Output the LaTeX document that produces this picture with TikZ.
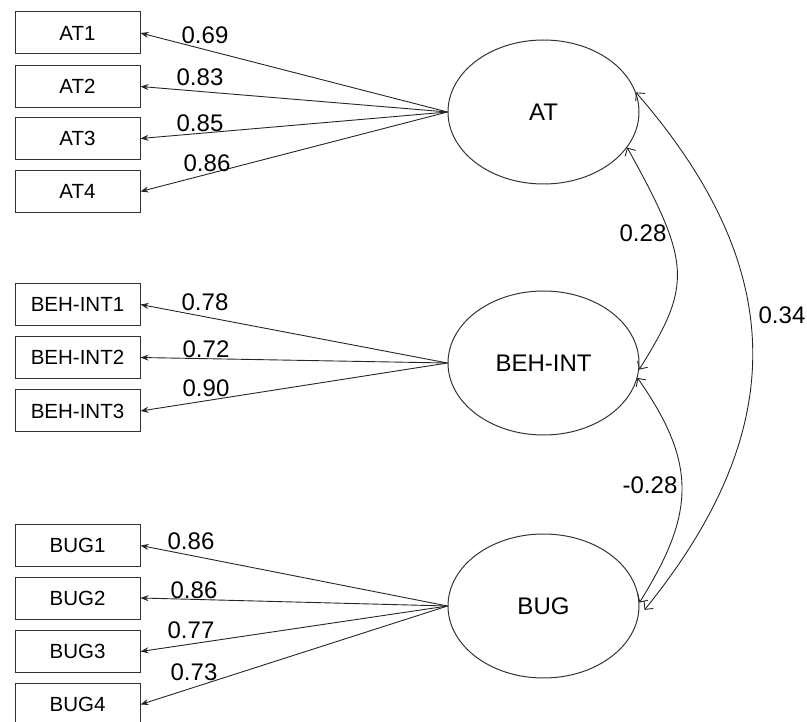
\documentclass[tikz,border=0pt]{standalone}
\usepackage{fontspec}
\setmainfont{Liberation Sans}
\usetikzlibrary{shapes.geometric,arrows.meta}
\begin{document}
\begin{tikzpicture}[x=1pt,y=1pt,
  box/.style={draw=black!80, line width=1pt, minimum width=125pt, minimum height=42pt, inner sep=0pt, font=\fontsize{20.5}{24}\selectfont},
  lat/.style={ellipse, draw=black!80, line width=1pt, minimum width=191pt, minimum height=144pt, inner sep=0pt, font=\fontsize{24}{28}\selectfont},
  load/.style={draw=black!85, line width=0.9pt, -{Stealth[length=8pt,width=6pt]}},
  cov/.style={draw=black!85, line width=0.9pt, {Straight Barb[length=6pt,width=12pt]}-{Straight Barb[length=6pt,width=12pt]}},
  lab/.style={font=\fontsize{24}{28}\selectfont, inner sep=0pt}]
\useasboundingbox (0,0) rectangle (807,-722);

% latent variables
\node[lat] (AT)  at (543.5,-112) {AT};
\node[lat] (BEH) at (543.5,-363) {BEH-INT};
\node[lat] (BUG) at (543.5,-606) {BUG};

% indicators
\node[box] (AT1) at (77.5,-33)   {AT1};
\node[box] (AT2) at (77.5,-86.5) {AT2};
\node[box] (AT3) at (77.5,-138.5){AT3};
\node[box] (AT4) at (77.5,-191.5){AT4};

\node[box] (B1) at (77.5,-304.5) {BEH-INT1};
\node[box] (B2) at (77.5,-357.5) {BEH-INT2};
\node[box] (B3) at (77.5,-411)   {BEH-INT3};

\node[box] (G1) at (77.5,-545.5) {BUG1};
\node[box] (G2) at (77.5,-598)   {BUG2};
\node[box] (G3) at (77.5,-651.5) {BUG3};
\node[box] (G4) at (77.5,-704.5) {BUG4};

% loadings
\draw[load] (AT.west) -- (AT1.east);
\draw[load] (AT.west) -- (AT2.east);
\draw[load] (AT.west) -- (AT3.east);
\draw[load] (AT.west) -- (AT4.east);
\draw[load] (BEH.west) -- (B1.east);
\draw[load] (BEH.west) -- (B2.east);
\draw[load] (BEH.west) -- (B3.east);
\draw[load] (BUG.west) -- (G1.east);
\draw[load] (BUG.west) -- (G2.east);
\draw[load] (BUG.west) -- (G3.east);
\draw[load] (BUG.west) -- (G4.east);

\node[lab] (l1) at (205,-35)  {0.69};
\node[lab] (l2) at (200,-77)  {0.83};
\node[lab] (l3) at (200,-123) {0.85};
\node[lab] (l4) at (207,-163) {0.86};
\node[lab] (l5) at (205,-302) {0.78};
\node[lab] (l6) at (206,-349) {0.72};
\node[lab] (l7) at (206,-388) {0.90};
\node[lab] (l8) at (191,-541) {0.86};
\node[lab] (l9) at (194,-590) {0.86};
\node[lab] (l10) at (191,-630) {0.77};
\node[lab] (l11) at (194,-672) {0.73};

% covariances
\draw[cov] (AT.-23) .. controls +(-61:133) and +(58:100) .. (BEH.-4);
\draw[cov] (BEH.-9) .. controls +(-55:105) and +(58:105) .. (BUG.2);
\draw[cov, shorten >=10pt] (AT.12) .. controls +(-49:238) and +(51:238) .. (BUG.-7);

\node[lab] (c1) at (643,-233) {0.28};
\node[lab] (c2) at (650,-485) {-0.28};
\node[lab] (c3) at (782,-315) {0.34};
\end{tikzpicture}
\end{document}
